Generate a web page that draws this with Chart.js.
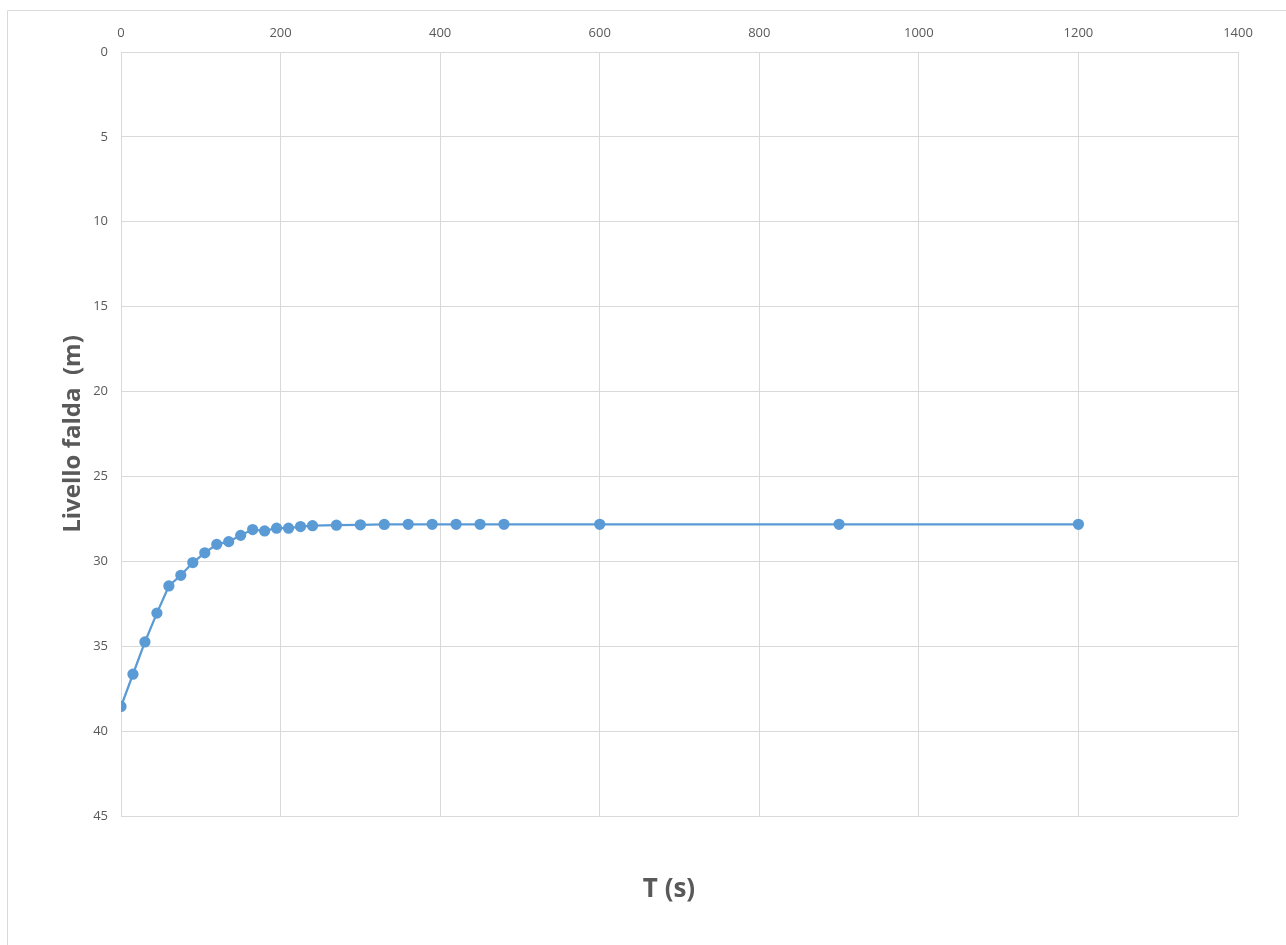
<!DOCTYPE html>
<html>
<head>
<meta charset="utf-8">
<style>
  html, body { margin: 0; padding: 0; background: #ffffff; }
  canvas { display: block; }
</style>
<script src="https://cdn.jsdelivr.net/npm/chart.js@4.4.1/dist/chart.umd.min.js"></script>
</head>
<body>
<canvas id="chart" width="1286" height="945"></canvas>
<script>
// Time since start of recovery (s)
const times = [0, 15, 30, 45, 60, 75, 90, 105, 120, 135, 150, 165, 180, 195, 210,
               225, 240, 270, 300, 330, 360, 390, 420, 450, 480, 600, 900, 1200];
// Water table level (m below reference)
const levels = [38.55, 36.65, 34.75, 33.05, 31.45, 30.82, 30.07, 29.5, 29.0, 28.84,
                28.47, 28.13, 28.21, 28.05, 28.05, 27.95, 27.9, 27.87, 27.85, 27.83,
                27.82, 27.82, 27.82, 27.82, 27.82, 27.82, 27.82, 27.82];
// Axis tick settings
const xTicks = { min: 0, max: 1400, step: 200 };
const yTicks = { min: 0, max: 45, step: 5 };
const xTitle = 'T (s)';
const yTitle = 'Livello falda  (m)';

const gray = '#595959';
const gridColor = '#d9d9d9';
const blue = '#5b9bd5';

// Chart frame lines and axis titles
const decorations = {
  id: 'decorations',
  beforeDraw(chart) {
    const ctx = chart.ctx;
    ctx.save();
    ctx.strokeStyle = gridColor;
    ctx.lineWidth = 1;
    ctx.beginPath();
    ctx.moveTo(7.5, chart.height);
    ctx.lineTo(7.5, 10.5);
    ctx.lineTo(chart.width, 10.5);
    ctx.stroke();
    ctx.restore();
  },
  afterDraw(chart) {
    const ctx = chart.ctx;
    const area = chart.chartArea;
    ctx.save();
    ctx.fillStyle = gray;
    ctx.textAlign = 'center';
    ctx.textBaseline = 'middle';
    ctx.font = 'bold 26px "Open Sans"';
    ctx.fillText(xTitle, 669, 890);
    ctx.translate(73, (area.top + area.bottom) / 2);
    ctx.rotate(-Math.PI / 2);
    ctx.font = 'bold 24px "Open Sans"';
    ctx.fillText(yTitle, 0, 0);
    ctx.restore();
  }
};

const plainNumber = (value) => String(value);

new Chart(document.getElementById('chart'), {
  type: 'scatter',
  data: {
    datasets: [{
      data: times.map((t, i) => ({ x: t, y: levels[i] })),
      showLine: true,
      borderColor: blue,
      backgroundColor: blue,
      borderWidth: 2.25,
      pointRadius: 4.5,
      pointHoverRadius: 4.5,
      pointBackgroundColor: blue,
      pointBorderColor: blue,
      tension: 0
    }]
  },
  options: {
    responsive: false,
    animation: false,
    layout: { padding: { left: 0, top: 0, right: 48, bottom: 129 } },
    plugins: {
      legend: { display: false },
      tooltip: { enabled: false },
      title: { display: false }
    },
    scales: {
      x: {
        type: 'linear',
        position: 'top',
        min: xTicks.min,
        max: xTicks.max,
        ticks: {
          stepSize: xTicks.step,
          color: gray,
          font: { family: '"Open Sans"', size: 13 },
          padding: 11,
          callback: plainNumber
        },
        grid: { color: gridColor, drawTicks: false, lineWidth: 1 },
        border: { color: gridColor },
        afterFit(scale) { scale.height = 52; }
      },
      y: {
        type: 'linear',
        reverse: true,
        min: yTicks.min,
        max: yTicks.max,
        ticks: {
          stepSize: yTicks.step,
          color: gray,
          font: { family: '"Open Sans"', size: 13 },
          padding: 13,
          callback: plainNumber
        },
        grid: { color: gridColor, drawTicks: false, lineWidth: 1 },
        border: { color: gridColor },
        afterFit(scale) { scale.width = 121; }
      }
    }
  },
  plugins: [decorations]
});
</script>
</body>
</html>
